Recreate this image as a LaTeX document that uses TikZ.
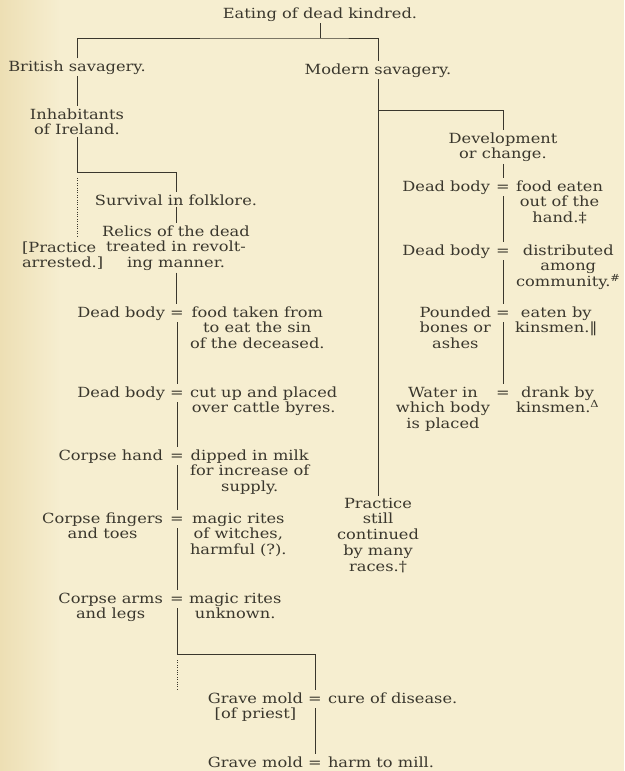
\documentclass[tikz,border=0pt]{standalone}
\usepackage{fontspec}
\setmainfont{DejaVu Serif}[FakeStretch=1.16]
\definecolor{bg}{HTML}{F6EED0}
\definecolor{bgl}{HTML}{EDDFB4}
\definecolor{ink}{HTML}{3A372D}
\newcommand{\dfont}{\fontsize{14}{15.8}\selectfont}
\begin{document}
\begin{tikzpicture}[x=1pt,y=-1pt,
  txt/.style={font=\dfont, text=ink, inner sep=0pt, outer sep=2pt, align=center, anchor=base},
  lt/.style={txt, anchor=base east},
  rt/.style={txt, anchor=base west},
  eqs/.style={txt, text height=11pt, text depth=3pt},
  ln/.style={draw=ink, line width=0.8pt},
  dotln/.style={draw=ink, line width=0.8pt, dash pattern=on 0.8pt off 1.6pt}]
\fill[bg] (0,0) rectangle (624,771);
\shade[left color=bgl, right color=bg] (0,0) rectangle (60,771);
\useasboundingbox (0,0) rectangle (624,771);

% (multi-line nodes are placed by the baseline of their last line)
% top
\node[txt] (title) at (320,18) {Eating of dead kindred.};
\node[txt] (brit) at (77,71) {British savagery.};
\node[txt] (mod) at (378,74) {Modern savagery.};
\coordinate (j0) at (320,38);
\draw[ln] (title.south) -- (j0);
\draw[ln] (brit.north) |- (j0) -| (mod.north);

% left branch
\node[txt] (inh) at (77,134.8) {Inhabitants\\of Ireland.};
\draw[ln] (brit.south) -- (inh.north);
\node[txt] (surv) at (176,205) {Survival in folklore.};
\coordinate (j1) at (176,172);
\draw[ln] (inh.south) |- (j1) -- (surv.north);
\coordinate (d0) at (77,178);
\coordinate (d1) at (77,237);
\draw[dotln] (d0) -- (d1);
\node[txt] (rel) at (176,267.6) {Relics of the dead\\treated in revolt-\\ing manner.};
\draw[ln] (surv.south) -- (rel.north);
\node[rt, align=left] (prac) at (20,267.8) {[Practice\\arrested.]};

\node[eqs] (eq1) at (177,317) {=};
\node[lt] (l1) at (167,317) {Dead body};
\node[rt] (r1) at (188,348.6) {food taken from\\to eat the sin\\of the deceased.};
\draw[ln] (rel.south) -- (rel.south |- eq1.north);

\node[eqs] (eq2) at (177,397) {=};
\node[lt] (l2) at (167,397) {Dead body};
\node[rt] (r2) at (188,412.8) {cut up and placed\\over cattle byres.};
\draw[ln] (eq1.south) -- (eq2.north);

\node[eqs] (eq3) at (177,460) {=};
\node[lt] (l3) at (165,460) {Corpse hand};
\node[rt] (r3) at (188,491.6) {dipped in milk\\for increase of\\supply.};
\draw[ln] (eq2.south) -- (eq3.north);

\node[eqs] (eq4) at (177,523) {=};
\node[lt] (l4) at (165,538.8) {Corpse fingers\\and toes};
\node[rt] (r4) at (188,554.6) {magic rites\\of witches,\\harmful (?).};
\draw[ln] (eq3.south) -- (eq4.north);

\node[eqs] (eq5) at (177,603) {=};
\node[lt] (l5) at (165,618.8) {Corpse arms\\and legs};
\node[rt] (r5) at (187,618.8) {magic rites\\unknown.};
\draw[ln] (eq4.south) -- (eq5.north);

\node[eqs] (eq6) at (315,703) {=};
\node[lt] (l6) at (305,718.8) {Grave mold\\{[of priest]}};
\node[rt] (r6) at (326,703) {cure of disease.};
\coordinate (j3) at (177,654);
\draw[ln] (eq5.south) |- (j3) -| (eq6.north);
\coordinate (d2) at (177,660);
\coordinate (d3) at (177,690);
\draw[dotln] (d2) -- (d3);

\node[eqs] (eq7) at (315,767) {=};
\node[lt] (l7) at (305,767) {Grave mold};
\node[rt] (r7) at (326,767) {harm to mill.};
\draw[ln] (eq6.south) -- (eq7.north);

% right branch
\node[txt] (still) at (378,571.2) {Practice\\still\\continued\\by many\\races.†};
\draw[ln] (mod.south) -- (still.north);
\node[txt] (dev) at (503,158.8) {Development\\or change.};
\coordinate (j2) at (378,110);
\draw[ln] (j2) -| (dev.north);

\node[eqs] (eq8) at (503,191) {=};
\node[lt] (l8) at (492,191) {Dead body};
\node[rt] (r8) at (514,222.6) {food eaten\\out of the\\hand.‡};
\draw[ln] (dev.south) -- (eq8.north);

\node[eqs] (eq9) at (503,255) {=};
\node[lt] (l9) at (492,255) {Dead body};
\node[rt] (r9) at (514,286.6) {distributed\\among\\community.\textsuperscript{\#}};
\draw[ln] (eq8.south) -- (eq9.north);

\node[eqs] (eq10) at (503,317) {=};
\node[lt] (l10) at (493,348.6) {Pounded\\bones or\\ashes};
\node[rt] (r10) at (513,332.8) {eaten by\\kinsmen.‖};
\draw[ln] (eq9.south) -- (eq10.north);

\node[eqs] (eq11) at (503,397) {=};
\node[lt] (l11) at (492,428.6) {Water in\\which body\\is placed};
\node[rt] (r11) at (514,412.8) {drank by\\kinsmen.\textsuperscript{Δ}};
\draw[ln] (eq10.south) -- (eq11.north);
\end{tikzpicture}
\end{document}
